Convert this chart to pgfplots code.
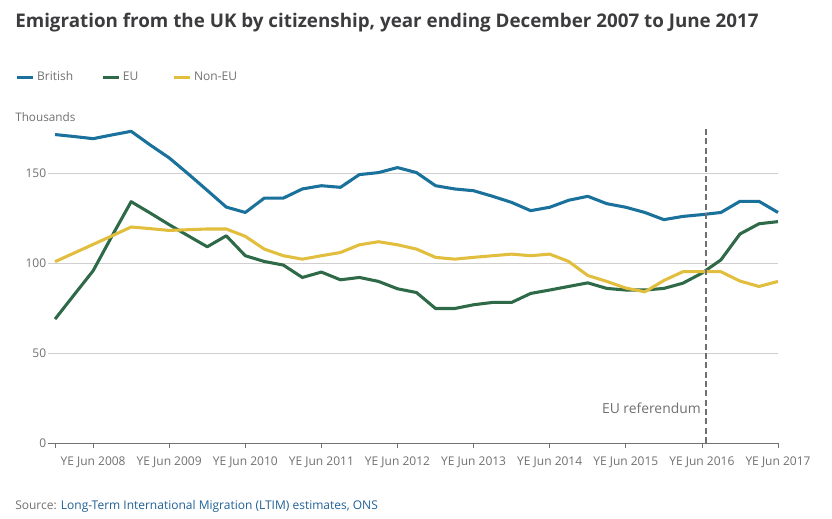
\documentclass[border=0pt]{standalone}
\usepackage{pgfplots}
\pgfplotsset{compat=1.18}
\usepackage{fontspec}
\setmainfont{Open Sans}
\definecolor{brit}{HTML}{19719C}
\definecolor{eu}{HTML}{2E6A47}
\definecolor{noneu}{HTML}{E2BE3E}
\definecolor{titlec}{HTML}{3C3B3D}
\definecolor{greyc}{HTML}{707070}
\definecolor{gridc}{HTML}{CFCFCF}
\definecolor{linkc}{HTML}{206095}
\begin{document}
\begin{tikzpicture}
\path[use as bounding box] (0pt,0pt) rectangle (624pt,-388.5pt);
\node[anchor=base west, inner sep=0, text=titlec, font=\fontsize{14.1}{16}\selectfont\bfseries] at (11.25pt,-20.5pt) {Emigration from the UK by citizenship, year ending December 2007 to June 2017};
\node[anchor=base west, inner sep=0, text=greyc, font=\fontsize{8.8}{10}\selectfont] at (11.25pt,-90.8pt) {Thousands};
\node[anchor=base west, inner sep=0, text=greyc, font=\fontsize{9}{10}\selectfont] at (11.25pt,-382pt) {Source: \textcolor{linkc}{Long-Term International Migration (LTIM) estimates, ONS}};
\begin{axis}[
  at={(36pt,-332.25pt)}, anchor=south west,
  scale only axis, width=547.5pt, height=237pt,
  xmin=-0.37, xmax=38, ymin=0, ymax=176,
  axis y line=none, axis x line*=bottom,
  x axis line style={draw=greyc, line width=0.6pt, -},
  xtick={0,2,6,10,14,18,22,26,30,34,38},
  xticklabels={,YE Jun 2008,YE Jun 2009,YE Jun 2010,YE Jun 2011,YE Jun 2012,YE Jun 2013,YE Jun 2014,YE Jun 2015,YE Jun 2016,YE Jun 2017},
  tick align=outside, major tick length=3.5pt,
  tick style={draw=greyc, line width=0.6pt},
  x tick label style={text=greyc, font=\fontsize{9}{10}\selectfont, inner sep=2pt, yshift=-4.3pt},
  ytick={0,50,100,150},
  /pgf/number format/assume math mode=true,
  clip=false,
  legend style={at={(-0.045,1.158)}, anchor=west, draw=none, fill=none, inner sep=0pt, font=\fontsize{9}{10}\selectfont, text=greyc, legend columns=3, /tikz/every even column/.append style={column sep=19pt}},
  legend image code/.code={\draw[#1, line width=2.3pt] (0pt,0pt) -- (12pt,0pt);},
  legend cell align=left,
]
\pgfplotsinvokeforeach{50,100,150}{
  \draw[gridc, line width=0.6pt] (axis cs:-0.37,#1) -- (axis cs:38,#1);
}
\pgfplotsinvokeforeach{0,50,100,150}{
  \node[anchor=east, inner sep=1.2pt, text=greyc, font=\fontsize{9}{10}\selectfont] at (axis cs:-0.37,#1) {#1};
}
\addplot[brit, line width=2.3pt, line join=round] coordinates {
(0,171.8)(1,170.7)(2,169.5)(3,171.6)(4,173.6)(5,166)(6,158.8)(7,149.9)(8,140.7)(9,131.4)
(10,128.4)(11,136.4)(12,136.4)(13,141.5)(14,143.3)(15,142.4)(16,149.5)(17,150.6)(18,153.4)(19,150.6)
(20,143.3)(21,141.5)(22,140.5)(23,137.4)(24,134)(25,129.4)(26,131.3)(27,135.2)(28,137.4)(29,133.3)
(30,131.3)(31,128.4)(32,124.4)(33,126.2)(34,127.2)(35,128.4)(36,134.6)(37,134.6)(38,128.4)};
\addlegendentry{British}
\addplot[eu, line width=2.3pt, line join=round] coordinates {
(0,69)(1,82.5)(2,95.9)(3,115.4)(4,134.4)(5,128.1)(6,121.6)(7,115.4)(8,109.3)(9,115.4)
(10,104.3)(11,101.1)(12,99.1)(13,92.2)(14,95.2)(15,90.9)(16,92.2)(17,90)(18,85.9)(19,83.8)
(20,74.9)(21,74.9)(22,77)(23,78.3)(24,78.3)(25,83.3)(26,85.2)(27,87.2)(28,89.2)(29,86.1)
(30,85.2)(31,85.2)(32,86.1)(33,89)(34,94.6)(35,102)(36,116.4)(37,122.1)(38,123.3)};
\addlegendentry{EU\rule{4.5pt}{0pt}}
\addplot[noneu, line width=2.3pt, line join=round] coordinates {
(0,101)(1,105.8)(2,110.6)(3,115.4)(4,120.3)(5,119.4)(6,118.4)(7,118.8)(8,119.2)(9,119.2)
(10,115.1)(11,108)(12,104.3)(13,102.4)(14,104.3)(15,106.1)(16,110.4)(17,112.1)(18,110.4)(19,108)
(20,103.4)(21,102.4)(22,103.4)(23,104.3)(24,105.2)(25,104.3)(26,105.2)(27,101.1)(28,93.3)(29,90)
(30,86.3)(31,84.2)(32,90.5)(33,95.4)(34,95.4)(35,95.4)(36,90.2)(37,87.2)(38,90)};
\addlegendentry{Non-EU}
\addplot[greyc, line width=1.5pt, dash pattern=on 4.5pt off 2.5pt, forget plot] coordinates {(34.2,0)(34.2,176)};
\node[anchor=base east, inner sep=0, text=greyc, font=\fontsize{10.4}{12}\selectfont] at (axis cs:33.95,16.5) {EU referendum};
\end{axis}
\end{tikzpicture}
\end{document}
